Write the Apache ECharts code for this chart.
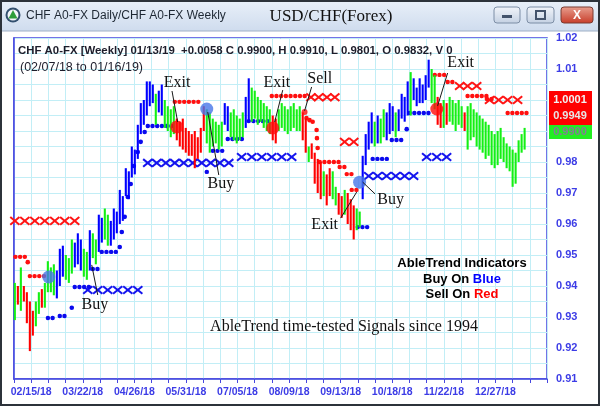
<!DOCTYPE html>
<html><head><meta charset="utf-8">
<script src="https://cdn.jsdelivr.net/npm/echarts@6/dist/echarts.min.js"></script>
<style>html,body{margin:0;padding:0;background:#fff}#c{width:600px;height:406px}</style>
</head><body><div id="c"></div>
<script>
// ---------- DATA ----------
// x axis: one unit = one grid column; labels every 3rd column starting at column 1
const xTickLabels = ['02/15/18','03/22/18','04/26/18','05/31/18','07/05/18','08/09/18','09/13/18','10/18/18','11/22/18','12/27/18'];
const yTicks = [0.91,0.92,0.93,0.94,0.95,0.96,0.97,0.98,0.99,1.00,1.01,1.02];

// daily bars (high / low) and trend colour code: b = up (blue), r = down (red), g = neutral (green)
const barHigh = [
 .941,.940,.946,.940,.938,.935,.932,.935,.938,.939,
 .941,.948,.946,.947,.945,.952,.953,.950,.949,.955,
 .954,.957,.955,.952,.951,.958,.957,.955,.963,.962,
 .965,.963,.961,.965,.964,.971,.969,.978,.977,.985,
 .984,.992,.999,1.000,1.006,1.006,1.005,1.002,1.003,1.005,
 1.000,.998,.997,.998,.994,.993,.994,.991,.990,.989,
 .990,.988,.991,.998,.997,.996,.994,.993,.992,.993,
 .999,.998,.996,.997,.995,.994,.996,1.001,1.007,1.004,
 1.003,1.001,1.000,.999,.998,.997,.995,.994,.997,.999,
 .998,.997,.998,.999,.997,.998,.996,.994,.985,.986,
 .983,.981,.980,.977,.976,.978,.977,.972,.970,.969,
 .971,.970,.968,.966,.965,.964,.982,.989,.993,.996,
 .993,.995,.994,.997,.996,.999,.998,.996,.997,1.002,
 1.001,1.006,1.009,1.007,1.004,1.007,1.005,1.008,1.013,1.010,
 1.008,1.001,.999,1.000,.999,1.001,1.000,.999,1.000,.998,
 .996,.998,.999,.997,.996,.995,.994,.993,.992,.990,
 .989,.990,.991,.988,.986,.985,.984,.983,.987,.989,.991];
const barLow = [
 .929,.934,.932,.935,.928,.919,.924,.927,.931,.933,
 .933,.938,.938,.937,.936,.940,.943,.942,.941,.944,
 .946,.947,.945,.943,.942,.945,.949,.947,.951,.954,
 .955,.953,.953,.955,.957,.960,.961,.969,.968,.975,
 .976,.981,.989,.992,.995,.998,.999,.992,.996,.995,
 .991,.990,.988,.989,.987,.985,.984,.983,.982,.982,
 .978,.981,.983,.990,.986,.983,.985,.986,.984,.985,
 .992,.990,.988,.987,.986,.987,.988,.991,.993,.993,
 .994,.992,.993,.991,.990,.989,.987,.986,.990,.991,
 .990,.989,.990,.991,.990,.990,.987,.983,.980,.981,
 .973,.970,.968,.969,.966,.969,.968,.966,.963,.962,
 .963,.960,.958,.955,.958,.959,.968,.979,.984,.986,
 .985,.986,.986,.988,.987,.989,.990,.988,.990,.994,
 .993,.995,.995,1.000,.998,.999,.999,1.000,1.004,.999,
 .997,.992,.991,.991,.992,.993,.992,.990,.992,.991,
 .990,.984,.987,.988,.985,.984,.983,.981,.982,.979,
 .978,.979,.981,.980,.978,.977,.972,.973,.980,.983,.984];
const barTrend =
 'grgrrrrggr'+'ggggbbbggg'+'bbbggbggbb'+'ggbbbbbbbb'+'bbbbbbbgbb'+
 'ggggrrrrrr'+'rrrrgggggg'+'bbgggggbbg'+'ggggggrrgg'+'ggggggrrgr'+
 'rrrgrrggrr'+'grrrggbbbb'+'gbggbbbgbb'+'bbgbbbbbbg'+'grrgrggggg'+
 'rggggggggg'+'ggggggggggg';

// AbleTrend stop levels: [fromX, toX, level]
const blueStops = [
 [1.97,2.49,0.9297],[2.66,3.19,0.9303],[3.36,3.36,0.9330],[3.53,4.41,0.9397],
 [4.58,4.93,0.9455],[5.10,5.98,0.9510],[6.15,6.15,0.9526],[6.27,6.27,0.9574],
 [6.44,6.44,0.9623],[6.62,6.62,0.9687],[6.79,6.79,0.9729],[6.97,6.97,0.9787],
 [7.20,7.20,0.9832],[7.37,7.37,0.9865],[7.60,7.60,0.9897],[7.78,9.41,0.9916],
 [11.21,11.38,0.9768],[11.56,12.26,0.9836],[12.43,13.48,0.9874],[13.65,14.87,0.9932],
 [19.99,20.69,0.9590],[20.86,21.79,0.9810],[21.97,22.67,0.9871],[22.84,22.84,0.9906],
 [23.01,24.23,0.9958]];
const redStops = [
 [0.08,0.74,0.9494],[0.80,0.80,0.9477],[0.92,1.91,0.9432],[9.35,10.98,0.9994],
 [14.99,17.01,1.0013],[17.01,17.01,0.9942],[17.19,17.19,0.9935],[17.37,17.37,0.9930],
 [17.60,17.60,0.9903],[17.62,17.62,0.9877],[17.66,17.66,0.9845],[17.78,18.94,0.9800],
 [18.94,19.35,0.9784],[19.35,19.64,0.9761],[19.64,19.99,0.9710],[24.47,25.16,1.0081],
 [25.22,25.74,1.0058],[26.38,27.49,1.0013],[27.50,27.90,1.0003],[28.71,29.81,0.9958]];

// AbleTrend X marks: [x, level]
const redCrosses = [
 [0.05,0.961],[0.63,0.961],[1.21,0.961],[1.79,0.961],[2.37,0.961],[2.95,0.961],[3.53,0.961],
 [17.27,1.0009],[17.72,1.0009],[18.20,1.0009],[18.66,1.0009],
 [19.23,0.9865],[19.76,0.9865],
 [25.92,1.0045],[26.38,1.0045],[26.91,1.0045],
 [27.66,1.0000],[28.19,1.0000],[28.71,1.0000],[29.29,1.0000]];
const blueCrosses = [
 [4.29,0.9387],[4.87,0.9387],[5.45,0.9387],[6.03,0.9387],[6.62,0.9387],[7.20,0.9387],
 [7.78,0.9797],[8.30,0.9797],[8.83,0.9797],[9.35,0.9797],[9.87,0.9797],[10.40,0.9797],
 [10.92,0.9797],[11.44,0.9797],[11.97,0.9797],[12.49,0.9797],
 [13.24,0.9816],[13.83,0.9816],[14.41,0.9816],[14.99,0.9816],[15.57,0.9816],[16.15,0.9816],
 [20.63,0.9755],[21.15,0.9755],[21.67,0.9755],[22.20,0.9755],[22.72,0.9755],[23.24,0.9755],
 [24.00,0.9816],[24.59,0.9816],[25.16,0.9816]];

// signals
const buySignals = [[2.02,0.9429],[11.21,0.9971],[20.10,0.9735]];
const exitSignals = [[9.47,0.9913],[15.05,0.9910],[24.59,0.9971]];
const sellSignals = [[16.90,0.9961]];

// annotations
const annText = ['Exit','Exit','Sell','Exit','Buy','Buy','Exit','Buy'];
const annTextAt = [[9.48,1.0055],[15.29,1.0055],[17.78,1.0068],[25.98,1.0119],[4.70,0.9339],[12.03,0.9729],[18.07,0.9597],[21.91,0.9677]];
const annFrom = [[9.19,1.0029],[15.63,1.0032],[17.31,1.0042],[25.22,1.0087],[4.87,0.9371],[11.91,0.9758],[19.00,0.9619],[21.00,0.9697]];
const annTo = [[9.52,0.9929],[15.16,0.9929],[16.90,0.9965],[24.64,0.9981],[4.52,0.9468],[11.27,0.9961],[19.93,0.9703],[20.28,0.9735]];

const lastPrices = ['1.0001','0.9949','0.9900'];
const headerLine = 'CHF A0-FX [Weekly] 01/13/19  +0.0058 C 0.9900, H 0.9910, L 0.9801, O 0.9832, V 0';
const rangeLine = '(02/07/18 to 01/16/19)';

// ---------- CHART ----------
const BAR_T0 = 0.05, BAR_STEP = 0.1744;
const AXIS_BLUE = '#4646e0', LABEL_BLUE = '#3c3ce6', GRIDC = '#c2eef6';
const SANS = '"Liberation Sans", Arial, sans-serif', SERIF = '"Liberation Serif", "Times New Roman", serif';

const barData = barHigh.map((h, i) => [BAR_T0 + i * BAR_STEP, h, barLow[i], 'brg'.indexOf(barTrend[i])]);
const barColorList = ['#0000ff', '#ff0000', '#14f014'];

function stopRender(color) {
  return function (params, api) {
    const a = api.coord([api.value(0), api.value(2)]);
    const b = api.coord([api.value(1), api.value(2)]);
    if (b[0] - a[0] < 1) return {type:'circle', shape:{cx:a[0], cy:a[1], r:2.3}, style:{fill:color}};
    return {type:'line', shape:{x1:a[0], y1:a[1], x2:b[0], y2:b[1]},
      style:{stroke:color, lineWidth:4.4, lineDash:[0.1, 4.6], lineCap:'round'}};
  };
}
function crossRender(color) {
  return function (params, api) {
    const p = api.coord([api.value(0), api.value(1)]);
    const w = 4.6, h = 3.8;
    return {type:'group', children:[
      {type:'line', shape:{x1:p[0]-w, y1:p[1]-h, x2:p[0]+w, y2:p[1]+h}, style:{stroke:color, lineWidth:2}},
      {type:'line', shape:{x1:p[0]-w, y1:p[1]+h, x2:p[0]+w, y2:p[1]-h}, style:{stroke:color, lineWidth:2}}
    ]};
  };
}

const option = {
  backgroundColor:'#ffffff',
  animation:false,
  grid:{left:14, right:53, top:38, bottom:27, show:true, borderColor:AXIS_BLUE, borderWidth:1.5},
  xAxis:{type:'value', min:0, max:31, interval:1,
    axisLine:{show:true, lineStyle:{color:AXIS_BLUE, width:1.5}},
    axisTick:{show:true, length:4, lineStyle:{color:AXIS_BLUE}},
    splitLine:{show:true, lineStyle:{color:GRIDC, width:1}},
    axisLabel:{color:LABEL_BLUE, fontWeight:'bold', fontSize:10.5, fontFamily:SANS, margin:8, hideOverlap:false,
      formatter: v => { const k = Math.round(v); return (k - 1) % 3 === 0 && k >= 1 ? (xTickLabels[(k - 1) / 3] || '') : ''; }}},
  yAxis:{type:'value', position:'right', min:yTicks[0], max:yTicks[yTicks.length-1], interval:0.01,
    axisLine:{show:true, lineStyle:{color:AXIS_BLUE, width:1.5}},
    axisTick:{show:false},
    splitLine:{show:true, lineStyle:{color:GRIDC, width:1}},
    minorTick:{show:false, splitNumber:2},
    minorSplitLine:{show:true, lineStyle:{color:GRIDC, width:1}},
    axisLabel:{color:LABEL_BLUE, fontWeight:'bold', fontSize:11, fontFamily:SANS, margin:9,
      formatter: v => v.toFixed(2)}},
  series:[
    {type:'custom', name:'blueX', data:blueCrosses, renderItem:crossRender('#1414ee'), z:3, encode:{x:0,y:1}},
    {type:'custom', name:'redX', data:redCrosses, renderItem:crossRender('#ff1414'), z:3, encode:{x:0,y:1}},
    {type:'custom', name:'blueStops', data:blueStops, renderItem:stopRender('#0a0aee'), z:4, encode:{x:[0,1],y:2}},
    {type:'custom', name:'redStops', data:redStops, renderItem:stopRender('#ff1010'), z:4, encode:{x:[0,1],y:2}},
    {type:'custom', name:'bars', data:barData, z:5, encode:{x:0, y:[1,2]},
      renderItem:(params, api) => {
        const x = api.value(0);
        const p1 = api.coord([x, api.value(1)]), p2 = api.coord([x, api.value(2)]);
        return {type:'line', shape:{x1:p1[0], y1:p1[1], x2:p2[0], y2:p2[1]},
          style:{stroke:barColorList[api.value(3)], lineWidth:2.1}};
      }},
    {type:'scatter', name:'buy', data:buySignals, symbolSize:13, z:6, itemStyle:{color:'#4676e8'}},
    {type:'scatter', name:'exit', data:exitSignals, symbolSize:13, z:6, itemStyle:{color:'#ff0a0a'}},
    {type:'scatter', name:'sell', data:sellSignals, symbolSize:6, z:6, itemStyle:{color:'#ff0a0a'}},
    {type:'custom', name:'notes', z:7, clip:false,
      data: annText.map((t, i) => [annTextAt[i][0], annTextAt[i][1], annFrom[i][0], annFrom[i][1], annTo[i][0], annTo[i][1], i]),
      encode:{x:0, y:1},
      renderItem:(params, api) => {
        const tp = api.coord([api.value(0), api.value(1)]);
        const a = api.coord([api.value(2), api.value(3)]);
        const b = api.coord([api.value(4), api.value(5)]);
        return {type:'group', children:[
          {type:'line', shape:{x1:a[0], y1:a[1], x2:b[0], y2:b[1]}, style:{stroke:'#1a1a1a', lineWidth:1}},
          {type:'text', style:{text:annText[api.value(6)], x:tp[0], y:tp[1], align:'center', verticalAlign:'middle',
            font:'16px ' + SERIF, fill:'#111'}}
        ]};
      }}
  ],
  graphic:[
    // window chrome
    {type:'rect', z:50, shape:{x:0, y:0, width:600, height:31},
      style:{fill:new echarts.graphic.LinearGradient(0,0,0,1,[{offset:0,color:'#e9f0f9'},{offset:1,color:'#cfdcee'}])}},
    {type:'line', z:50, shape:{x1:0, y1:31, x2:600, y2:31}, style:{stroke:'#9fb0c6', lineWidth:1}},
    {type:'rect', z:60, shape:{x:1, y:1, width:598, height:404}, style:{fill:null, stroke:'#2c323a', lineWidth:2}},
    {type:'circle', z:51, shape:{cx:13, cy:15, r:7.5}, style:{fill:'#33506f'}},
    {type:'circle', z:52, shape:{cx:13, cy:15, r:5.5}, style:{fill:'#f4f7fb'}},
    {type:'polygon', z:53, shape:{points:[[13,10],[17.5,18.5],[8.5,18.5]]}, style:{fill:'#2e9e3a'}},
    {type:'text', z:52, style:{text:'CHF A0-FX Daily/CHF A0-FX Weekly', x:26, y:16, verticalAlign:'middle',
      font:'12px ' + SANS, fill:'#1d2733'}},
    {type:'text', z:52, style:{text:'USD/CHF(Forex)', x:331, y:17, align:'center', verticalAlign:'middle',
      font:'17px ' + SERIF, fill:'#111'}},
    {type:'rect', z:52, shape:{x:494, y:7, width:26, height:16, r:3},
      style:{fill:new echarts.graphic.LinearGradient(0,0,0,1,[{offset:0,color:'#f2f5fa'},{offset:1,color:'#c3d0e2'}]), stroke:'#7d8ea6'}},
    {type:'rect', z:53, shape:{x:502, y:15, width:10, height:3}, style:{fill:'#43536b'}},
    {type:'rect', z:52, shape:{x:527, y:7, width:27, height:16, r:3},
      style:{fill:new echarts.graphic.LinearGradient(0,0,0,1,[{offset:0,color:'#f2f5fa'},{offset:1,color:'#c3d0e2'}]), stroke:'#7d8ea6'}},
    {type:'rect', z:53, shape:{x:536, y:11, width:9, height:8}, style:{fill:null, stroke:'#43536b', lineWidth:2}},
    {type:'rect', z:52, shape:{x:561, y:7, width:32, height:16, r:3},
      style:{fill:new echarts.graphic.LinearGradient(0,0,0,1,[{offset:0,color:'#e8a090'},{offset:1,color:'#c73b28'}]), stroke:'#7a3a30'}},
    {type:'text', z:53, style:{text:'X', x:577, y:15.5, align:'center', verticalAlign:'middle', font:'bold 12px ' + SANS, fill:'#fff'}},
    // header texts
    {type:'text', z:40, style:{text:headerLine, x:18, y:51, verticalAlign:'middle', font:'bold 11.4px ' + SANS, fill:'#1c1c2a'}},
    {type:'text', z:40, style:{text:rangeLine, x:20, y:68, verticalAlign:'middle', font:'12.5px ' + SANS, fill:'#1c1c2a'}},
    // last price boxes
    {type:'rect', z:40, shape:{x:549, y:91, width:43, height:34}, style:{fill:'#ff0000'}},
    {type:'rect', z:40, shape:{x:549, y:125, width:43, height:14}, style:{fill:'#22ee22'}},
    {type:'text', z:41, style:{text:lastPrices[0], x:570, y:100, align:'center', verticalAlign:'middle', font:'bold 11px ' + SANS, fill:'#f2f2f2'}},
    {type:'text', z:41, style:{text:lastPrices[1], x:570, y:116, align:'center', verticalAlign:'middle', font:'bold 11px ' + SANS, fill:'#e6e6e6'}},
    {type:'text', z:41, style:{text:lastPrices[2], x:570, y:132, align:'center', verticalAlign:'middle', font:'bold 11px ' + SANS, fill:'#857c98'}},
    // legend block
    {type:'text', z:40, style:{text:'AbleTrend Indicators', x:462, y:263, align:'center', verticalAlign:'middle', font:'bold 13px ' + SANS, fill:'#000'}},
    {type:'text', z:40, style:{text:'{k|Buy On }{b|Blue}', x:462, y:279, align:'center', verticalAlign:'middle', font:'bold 13px ' + SANS,
      rich:{k:{fill:'#000', font:'bold 13px ' + SANS}, b:{fill:'#0000ff', font:'bold 13px ' + SANS}}}},
    {type:'text', z:40, style:{text:'{k|Sell On }{r|Red}', x:462, y:294, align:'center', verticalAlign:'middle', font:'bold 13px ' + SANS,
      rich:{k:{fill:'#000', font:'bold 13px ' + SANS}, r:{fill:'#ff0000', font:'bold 13px ' + SANS}}}},
    {type:'text', z:40, style:{text:'AbleTrend time-tested Signals since 1994', x:344, y:327, align:'center', verticalAlign:'middle',
      font:'16px ' + SERIF, fill:'#111'}}
  ]
};
const chart = echarts.init(document.getElementById('c'), null, {renderer:'canvas', width:600, height:406});
chart.setOption(option);
</script>
</body></html>
